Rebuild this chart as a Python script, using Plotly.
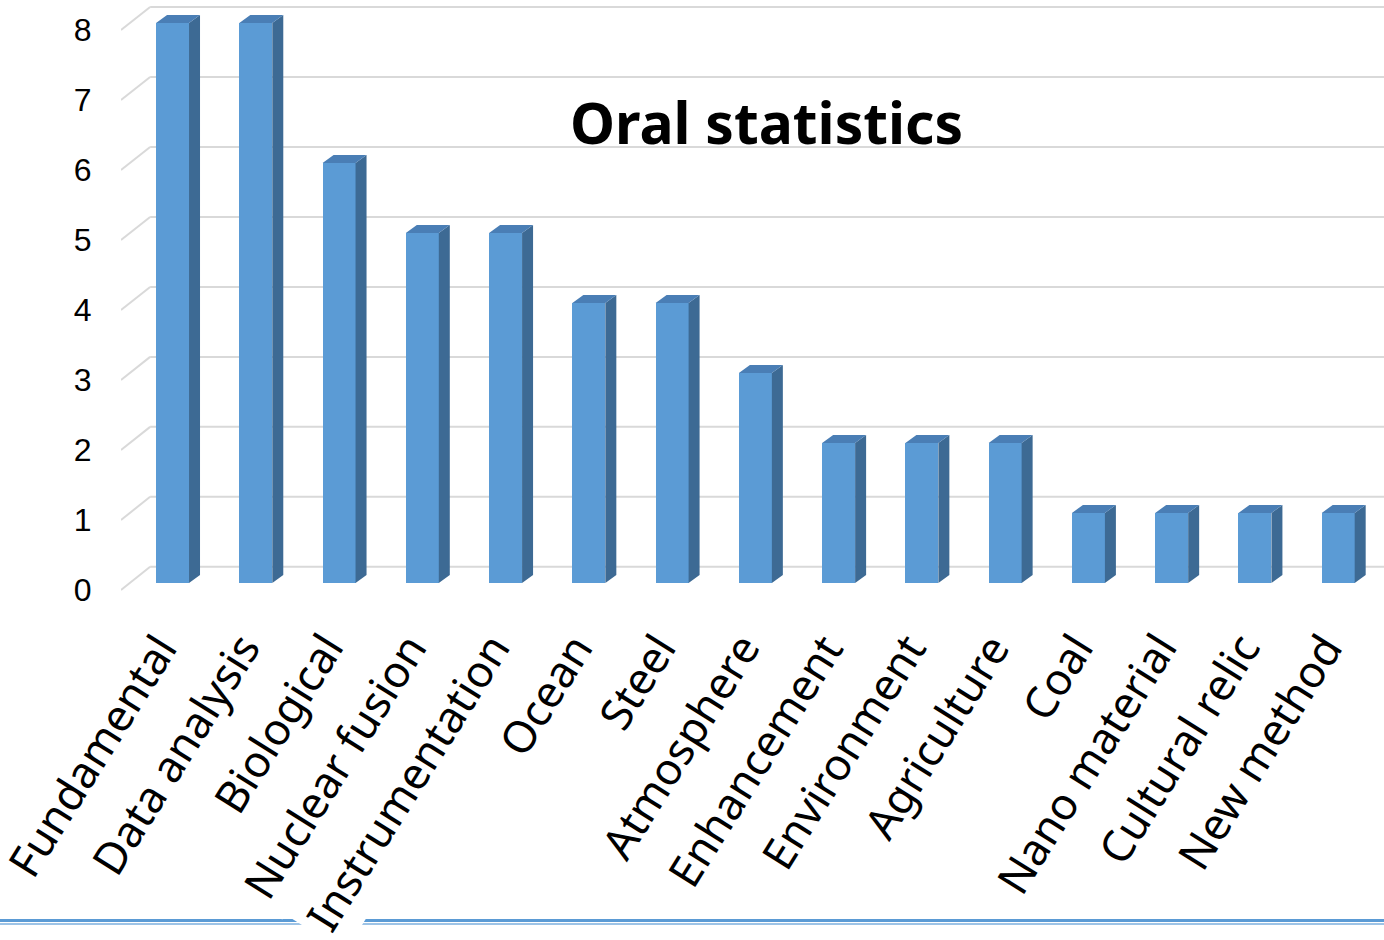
import plotly.graph_objects as go

categories = ["Fundamental", "Data analysis", "Biological", "Nuclear fusion", "Instrumentation",
              "Ocean", "Steel", "Atmosphere", "Enhancement", "Environment", "Agriculture",
              "Coal", "Nano material", "Cultural relic", "New method"]
values = [8, 8, 6, 5, 5, 4, 4, 3, 2, 2, 2, 1, 1, 1, 1]
y_ticks = [0, 1, 2, 3, 4, 5, 6, 7, 8]
title_text = "Oral statistics"

# 3D look parameters (axis units)
HALF_W = 0.198      # half width of bar front face
DEPTH_X = 0.132     # bar depth offset in x
DEPTH_Y = 0.114     # bar depth offset in y
BAR_BASE = 0.1      # bars sit slightly behind the front plane
WALL_DX = 0.35      # back wall offset x
WALL_DY = 0.33      # back wall offset y
X_MIN, X_MAX = -0.619, 14.55
Y_MIN, Y_MAX = -0.43, 8.43

FRONT = "#5B9BD5"
SIDE = "#3D6A94"
TOP = "#4A7EB5"
GRID = "#D9D9D9"

xs = list(range(len(categories)))
fig = go.Figure()

# gridlines with perspective (back wall + diagonal)
shapes = []
for t in y_ticks:
    shapes.append(dict(type="line", xref="x", yref="y", layer="below",
                       x0=X_MIN, y0=t, x1=X_MIN + WALL_DX, y1=t + WALL_DY,
                       line=dict(color=GRID, width=2)))
    shapes.append(dict(type="line", xref="x", yref="y", layer="below",
                       x0=X_MIN + WALL_DX, y0=t + WALL_DY, x1=X_MAX, y1=t + WALL_DY,
                       line=dict(color=GRID, width=2)))

# bottom decorative double line
shapes.append(dict(type="line", xref="paper", yref="paper", layer="below",
                   x0=-0.1, x1=1.0, y0=-0.4847, y1=-0.4847,
                   line=dict(color="#5B9BD5", width=3)))
shapes.append(dict(type="line", xref="paper", yref="paper", layer="below",
                   x0=-0.1, x1=1.0, y0=-0.4903, y1=-0.4903,
                   line=dict(color="#9DC3E6", width=2)))

# front faces
fig.add_trace(go.Bar(x=xs, y=values, base=BAR_BASE, width=2 * HALF_W,
                     marker=dict(color=FRONT, line=dict(width=0)),
                     showlegend=False, hoverinfo="skip"))

# side and top faces
sx, sy = [], []
tx, ty = [], []
for x, v in zip(xs, values):
    b = BAR_BASE
    top = v + BAR_BASE
    r = x + HALF_W
    l = x - HALF_W
    sx += [r, r + DEPTH_X, r + DEPTH_X, r, r, None]
    sy += [b, b + DEPTH_Y, top + DEPTH_Y, top, b, None]
    tx += [l, l + DEPTH_X, r + DEPTH_X, r, l, None]
    ty += [top, top + DEPTH_Y, top + DEPTH_Y, top, top, None]

fig.add_trace(go.Scatter(x=sx, y=sy, mode="lines", fill="toself", fillcolor=SIDE,
                         line=dict(width=0, color=SIDE), showlegend=False, hoverinfo="skip"))
fig.add_trace(go.Scatter(x=tx, y=ty, mode="lines", fill="toself", fillcolor=TOP,
                         line=dict(width=0, color=TOP), showlegend=False, hoverinfo="skip"))

annotations = []
for x, c in zip(xs, categories):
    annotations.append(dict(x=x, y=-0.31, xref="x", yref="y", text=c, showarrow=False,
                            textangle=-58, xanchor="right", yanchor="top", xshift=28,
                            bgcolor="white", borderpad=7,
                            font=dict(family="Noto Sans", size=44, color="black")))
annotations.append(dict(x=0.511, y=0.803, xref="paper", yref="paper", text=title_text,
                        showarrow=False, xanchor="center", yanchor="middle",
                        font=dict(family="Noto Sans", size=57, color="black", weight="bold")))

fig.update_layout(
    width=1384, height=940,
    margin=dict(l=121, r=0, t=0, b=320),
    paper_bgcolor="white", plot_bgcolor="white",
    shapes=shapes, annotations=annotations,
    xaxis=dict(range=[X_MIN, X_MAX], showgrid=False, zeroline=False, showline=False,
               showticklabels=False, ticks=""),
    yaxis=dict(range=[Y_MIN, Y_MAX], tickvals=y_ticks, ticktext=[str(t) for t in y_ticks],
               showgrid=False, zeroline=False, showline=False,
               ticks="outside", ticklen=22, tickcolor="rgba(0,0,0,0)",
               tickfont=dict(family="Liberation Sans", size=32, color="black")),
    bargap=0,
)

fig.write_html("out.html", config={"displayModeBar": False},
               post_script="document.body.style.margin='0';document.body.style.overflow='hidden';")
